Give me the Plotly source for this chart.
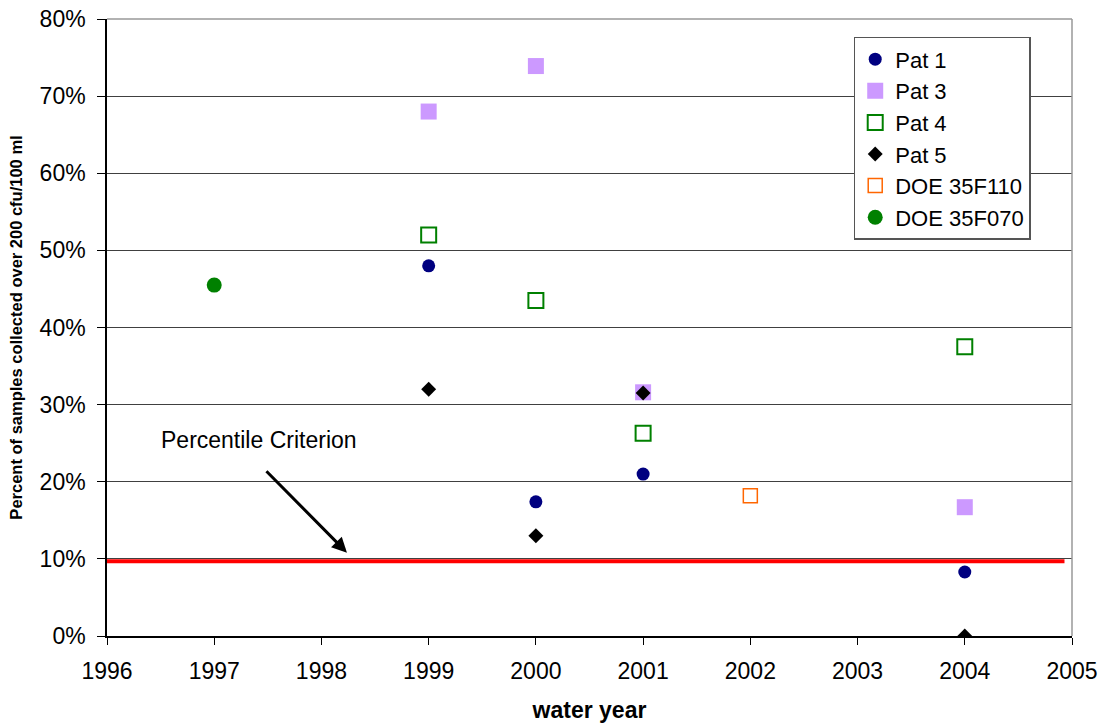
import plotly.graph_objects as go

# ---- data (percent of samples over 200 cfu/100 ml) ----
pat1_years = [1999, 2000, 2001, 2004]
pat1_vals = [48.0, 17.4, 21.0, 8.3]

pat3_years = [1999, 2000, 2001, 2004]
pat3_vals = [68.0, 73.9, 31.6, 16.7]

pat4_years = [1999, 2000, 2001, 2004]
pat4_vals = [52.0, 43.5, 26.3, 37.5]

pat5_years = [1999, 2000, 2001, 2004]
pat5_vals = [32.0, 13.0, 31.5, 0.0]

doe110_years = [2002]
doe110_vals = [18.2]

doe070_years = [1997]
doe070_vals = [45.5]

criterion_x = [1996, 2004.93]
criterion_val = 9.7

year_ticks = list(range(1996, 2006))
pct_ticks = list(range(0, 90, 10))
pct_labels = [f"{v}%" for v in pct_ticks]

FONT = "Liberation Sans, Arial, sans-serif"

fig = go.Figure()

fig.add_trace(go.Scatter(
    x=criterion_x, y=[criterion_val] * len(criterion_x), mode="lines",
    line=dict(color="#FF0000", width=4), showlegend=False, hoverinfo="skip"))

fig.add_trace(go.Scatter(
    x=pat1_years, y=pat1_vals, mode="markers", name="Pat 1",
    marker=dict(symbol="circle", size=13, color="#000080")))
fig.add_trace(go.Scatter(
    x=pat3_years, y=pat3_vals, mode="markers", name="Pat 3",
    marker=dict(symbol="square", size=16, color="#CC99FF")))
fig.add_trace(go.Scatter(
    x=pat4_years, y=pat4_vals, mode="markers", name="Pat 4",
    marker=dict(symbol="square-open", size=15, color="#008000",
                line=dict(width=2, color="#008000"))))
fig.add_trace(go.Scatter(
    x=pat5_years, y=pat5_vals, mode="markers", name="Pat 5",
    marker=dict(symbol="diamond", size=11.5, color="#000000")))
fig.add_trace(go.Scatter(
    x=doe110_years, y=doe110_vals, mode="markers", name="DOE 35F110",
    marker=dict(symbol="square-open", size=14, color="#FF6600",
                line=dict(width=1.5, color="#FF6600"))))
fig.add_trace(go.Scatter(
    x=doe070_years, y=doe070_vals, mode="markers", name="DOE 35F070",
    marker=dict(symbol="circle", size=15, color="#008000")))

fig.update_layout(
    width=1102, height=725,
    margin=dict(l=107, r=30, t=19, b=89, autoexpand=False),
    paper_bgcolor="white", plot_bgcolor="white",
    font=dict(family=FONT, size=23, color="#000000"),
    legend=dict(
        x=0.7738, y=0.971, xanchor="left", yanchor="top",
        bgcolor="white", bordercolor="#555555", borderwidth=1.5,
        font=dict(size=22), tracegroupgap=0, itemwidth=30),
    xaxis=dict(
        range=[1996, 2005], tickvals=year_ticks, ticks="outside", ticklen=7,
        tickcolor="#000", showline=True, linecolor="#000", linewidth=1.5,
        mirror=False, showgrid=False, zeroline=False, automargin=False,
        ticklabelstandoff=7,
        title=dict(text="<b>water year</b>", font=dict(size=23), standoff=19),
        tickfont=dict(size=23)),
    yaxis=dict(
        range=[0, 80], tickvals=pct_ticks, ticktext=pct_labels, ticks="outside",
        ticklen=8, tickcolor="#000", showline=True, linecolor="#000",
        linewidth=1.5, showgrid=True, gridcolor="#404040", gridwidth=1,
        zeroline=False, automargin=False, ticklabelstandoff=7,
        title=dict(text="<b>Percent of samples collected over 200 cfu/100 ml</b>",
                   font=dict(size=16.5), standoff=13),
        tickfont=dict(size=23)),
    shapes=[
        dict(type="line", xref="paper", yref="paper", x0=1, x1=1, y0=0, y1=1,
             line=dict(color="#999999", width=1.5)),
        dict(type="line", xref="paper", yref="paper", x0=0, x1=1, y0=1, y1=1,
             line=dict(color="#999999", width=1.5)),
    ],
    annotations=[
        dict(x=1997.418, y=25.4, xref="x", yref="y", text="Percentile Criterion",
             showarrow=False, font=dict(size=23)),
        dict(x=1998.238, y=10.8, xref="x", yref="y", text="",
             showarrow=True, arrowhead=2, arrowsize=1, arrowwidth=3,
             arrowcolor="#000000", ax=-82, ay=-83),
    ],
)

# remove the default 8px page margin so the figure sits at the window's corner
fig.write_html("out.html",
               config={"displayModeBar": False},
               post_script="document.body.style.margin='0px';")
